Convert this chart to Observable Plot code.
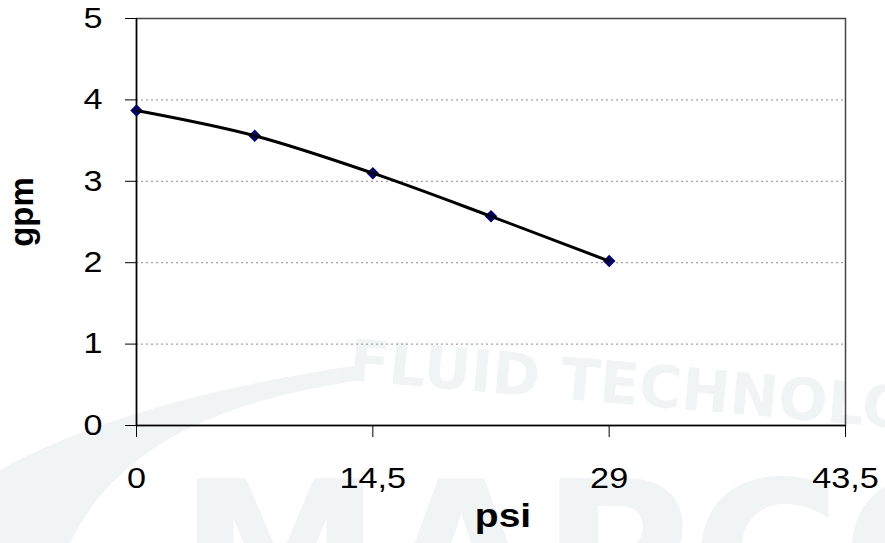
<!DOCTYPE html>
<html>
<head>
<meta charset="utf-8">
<script src="https://cdn.jsdelivr.net/npm/d3@7"></script>
<script src="https://cdn.jsdelivr.net/npm/@observablehq/plot@0.6"></script>
<style>
  html, body { margin: 0; padding: 0; background: #fff; }
  #wrap { position: relative; width: 885px; height: 543px; overflow: hidden; }
  #wm { position: absolute; left: 0; top: 0; }
  #chart { position: absolute; left: 0; top: 0; }
</style>
</head>
<body>
<div id="wrap">
  <svg id="wm" width="885" height="543" xmlns="http://www.w3.org/2000/svg">
    <path d="M0,470 C90,420 220,385 360,365 L360,380 C230,400 120,440 70,543 L0,543 Z" fill="#f1f4f4"/>
    <text x="348" y="402" font-family="DejaVu Sans, sans-serif" font-weight="bold" font-size="58" fill="#f1f4f4" transform="rotate(5 600 390)">FLUID TECHNOLOGY</text>
    <text x="178" y="628" font-family="DejaVu Sans, sans-serif" font-weight="bold" font-size="205" fill="#f1f4f4">MAPCO</text>
  </svg>
  <div id="chart"></div>
</div>
<script>
const psi = [0, 7.25, 14.5, 21.75, 29];
const gpm = [3.87, 3.56, 3.10, 2.57, 2.02];
const xTicks = [0, 14.5, 29, 43.5];
const yTicks = [0, 1, 2, 3, 4, 5];
const gridY = [1, 2, 3, 4];

const data = psi.map((p, i) => ({psi: p, gpm: gpm[i]}));
const fmt = d => String(d).replace(".", ",");

const chart = Plot.plot({
  width: 885,
  height: 543,
  marginLeft: 136,
  marginRight: 40,
  marginTop: 18,
  marginBottom: 118,
  style: {background: "transparent", fontFamily: "Liberation Sans, Arial, sans-serif"},
  x: {domain: [0, 43.5]},
  y: {domain: [0, 5]},
  marks: [
    Plot.ruleY(gridY, {stroke: "#8c8c8c", strokeDasharray: "2,3", strokeWidth: 1}),
    Plot.frame({stroke: "#444", strokeWidth: 1.5}),
    Plot.axisY(yTicks, {tickSize: 11, tickPadding: 23, fontSize: 29, color: "#000", stroke: "#000", label: null, tickFormat: fmt}),
    Plot.axisX(xTicks, {tickSize: 12, tickPadding: 30, fontSize: 29, color: "#000", stroke: "#000", label: null, tickFormat: fmt}),
    Plot.ruleX([0], {stroke: "#000", strokeWidth: 1.5}),
    Plot.ruleY([0], {stroke: "#000", strokeWidth: 1.5}),
    Plot.dot(data, {x: "psi", y: "gpm", symbol: "square", rotate: 45, r: 5, fill: "#000080", stroke: "none"}),
    Plot.line(data, {x: "psi", y: "gpm", curve: "monotone-x", stroke: "#000", strokeWidth: 3})
  ]
});

const svg = d3.select(chart);
svg.append("text")
  .attr("class", "stretch")
  .attr("x", 503).attr("y", 527)
  .attr("text-anchor", "middle")
  .attr("font-family", "Liberation Sans, Arial, sans-serif")
  .attr("font-weight", "bold").attr("font-size", 33)
  .text("psi");
svg.append("text")
  .attr("transform", "translate(33,212) rotate(-90)")
  .attr("text-anchor", "middle")
  .attr("font-family", "Liberation Sans, Arial, sans-serif")
  .attr("font-weight", "bold").attr("font-size", 33)
  .text("gpm");

document.getElementById("chart").appendChild(chart);

// widen tick labels horizontally (the reference glyphs are stretched)
svg.selectAll("text").each(function() {
  const g = this.parentNode;
  const a = g && g.getAttribute && g.getAttribute("aria-label");
  const ok = a === "y-axis tick label" || a === "x-axis tick label" || this.getAttribute("class") === "stretch";
  if (!ok) return;
  const len = this.getComputedTextLength();
  this.setAttribute("textLength", (len * 1.18).toFixed(1));
  this.setAttribute("lengthAdjust", "spacingAndGlyphs");
});
</script>
</body>
</html>
